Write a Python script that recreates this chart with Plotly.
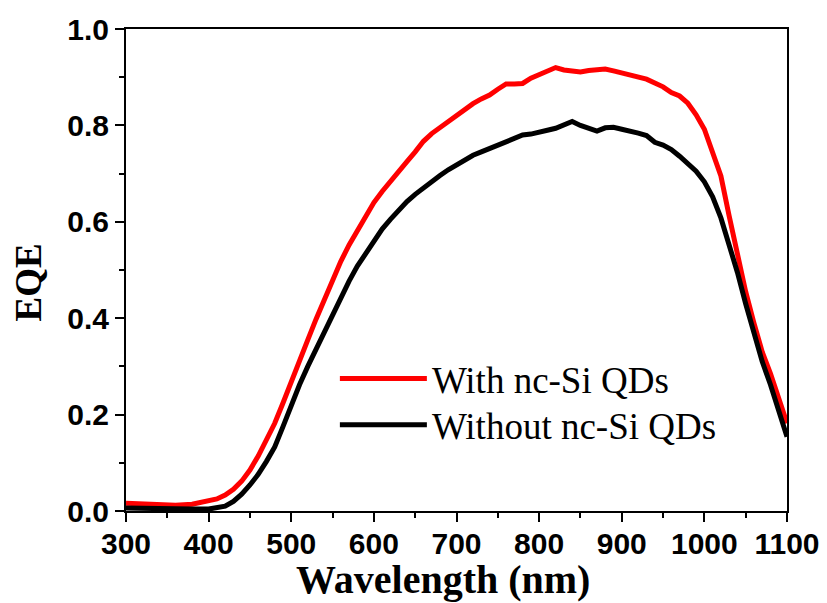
import plotly.graph_objects as go

# External quantum efficiency spectra of the solar cell
wavelength = [300, 320, 340, 360, 380, 400, 410, 420, 430, 440, 450, 460, 470, 480, 490,
              500, 510, 520, 530, 540, 550, 560, 570, 580, 590, 600, 610, 620, 630, 640,
              650, 660, 670, 680, 690, 700, 710, 720, 730, 740, 750, 760, 770, 780, 790,
              800, 810, 820, 830, 840, 850, 860, 870, 880, 890, 900, 910, 920, 930, 940,
              950, 960, 970, 980, 990, 1000, 1010, 1020, 1030, 1040, 1050, 1060, 1070,
              1080, 1090, 1100]

eqe_with_qds = [0.016, 0.014, 0.012, 0.012, 0.014, 0.020, 0.025, 0.033, 0.045, 0.062,
                0.085, 0.114, 0.146, 0.182, 0.224, 0.270, 0.312, 0.355, 0.398, 0.440,
                0.480, 0.518, 0.552, 0.583, 0.612, 0.640, 0.663, 0.685, 0.705, 0.725,
                0.745, 0.767, 0.783, 0.796, 0.809, 0.822, 0.835, 0.845, 0.855, 0.863,
                0.875, 0.886, 0.886, 0.887, 0.898, 0.905, 0.912, 0.920, 0.915, 0.912,
                0.911, 0.914, 0.916, 0.917, 0.913, 0.909, 0.905, 0.899, 0.896, 0.888,
                0.880, 0.868, 0.861, 0.846, 0.822, 0.792, 0.745, 0.695, 0.612, 0.530,
                0.455, 0.390, 0.330, 0.285, 0.235, 0.182]

eqe_without_qds = [0.006, 0.005, 0.004, 0.004, 0.004, 0.004, 0.006, 0.010, 0.020, 0.035,
                   0.054, 0.076, 0.103, 0.133, 0.175, 0.220, 0.262, 0.300, 0.336, 0.372,
                   0.410, 0.443, 0.477, 0.508, 0.535, 0.560, 0.585, 0.605, 0.625, 0.642,
                   0.657, 0.671, 0.684, 0.696, 0.708, 0.719, 0.729, 0.738, 0.745, 0.752,
                   0.758, 0.766, 0.773, 0.780, 0.782, 0.787, 0.790, 0.794, 0.800, 0.808,
                   0.800, 0.794, 0.788, 0.795, 0.796, 0.792, 0.789, 0.784, 0.779, 0.765,
                   0.759, 0.750, 0.736, 0.720, 0.705, 0.683, 0.652, 0.608, 0.555, 0.495,
                   0.430, 0.368, 0.310, 0.262, 0.205, 0.154]

series = [
    ("With nc-Si QDs", eqe_with_qds, "#ff0000", "legend", 0.274),
    ("Without nc-Si QDs", eqe_without_qds, "#000000", "legend2", 0.178),
]

serif = "Liberation Serif, Times New Roman"
tick_font = dict(family="Liberation Sans, Arial", size=30, color="black", weight="bold")
title_font = dict(family=serif, size=40, color="black", weight="bold")

fig = go.Figure()
legend_layout = {}
for name, values, color, legend_id, ly in series:
    fig.add_trace(go.Scatter(x=wavelength, y=values, mode="lines", name=name,
                             legend=legend_id, line=dict(color=color, width=5)))
    legend_layout[legend_id] = dict(
        x=0.316, y=ly, xanchor="left", yanchor="middle",
        bgcolor="rgba(0,0,0,0)", borderwidth=0,
        font=dict(family=serif, size=37, color="black"),
        itemwidth=87,
    )

axis_common = dict(
    showline=True, linecolor="black", linewidth=2, mirror=True,
    ticks="outside", ticklen=9, tickwidth=2, tickcolor="black",
    showgrid=False, zeroline=False, tickfont=tick_font, automargin=False,
)

fig.update_xaxes(
    range=[300, 1100], tickvals=[300, 400, 500, 600, 700, 800, 900, 1000, 1100],
    minor=dict(ticks="outside", ticklen=5, tickwidth=2, tickcolor="black", dtick=50, tick0=300),
    ticklabelstandoff=-4,
    **axis_common,
)
fig.update_yaxes(
    range=[0, 1.0], tickvals=[0, 0.2, 0.4, 0.6, 0.8, 1.0], tickformat=".1f",
    minor=dict(ticks="outside", ticklen=5, tickwidth=2, tickcolor="black", dtick=0.1, tick0=0),
    **axis_common,
)

# Axis titles
fig.add_annotation(
    text="Wavelength (nm)", xref="paper", yref="paper", x=0.48, y=-0.142,
    xanchor="center", yanchor="middle", showarrow=False, font=title_font,
)
fig.add_annotation(
    text="EQE", textangle=-90, xref="paper", yref="paper", x=0, y=0.474,
    xanchor="center", yanchor="middle", xshift=-97, showarrow=False,
    font=dict(family=serif, size=37, color="black", weight="bold"),
)

fig.update_layout(
    width=827, height=603,
    margin=dict(l=126, r=40, t=29, b=92),
    paper_bgcolor="white", plot_bgcolor="white",
    showlegend=True,
    **legend_layout,
)

fig.write_html("out.html")
